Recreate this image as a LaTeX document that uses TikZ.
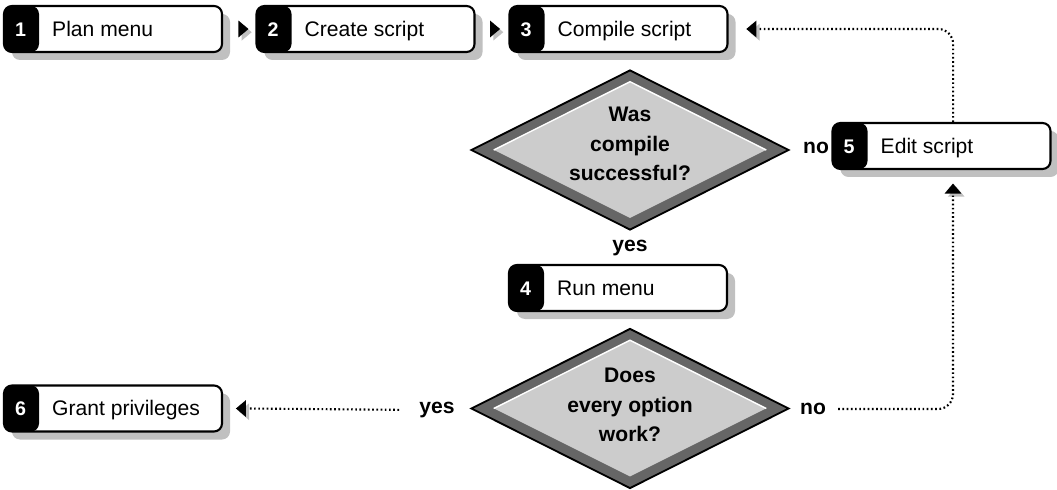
\documentclass[tikz,border=0pt]{standalone}
\usepackage{fontspec}
\setmainfont{Liberation Sans}
\usetikzlibrary{positioning,calc,shapes.geometric,shadows}
\definecolor{shade}{RGB}{192,192,192}
\definecolor{band}{RGB}{102,102,102}
\definecolor{face}{RGB}{204,204,204}
\tikzset{
  stepbox/.style={draw, line width=1.5pt, rounded corners=0.2cm, fill=white, minimum width=5.45cm, minimum height=1.15cm, inner sep=0pt,
    drop shadow={shadow xshift=0.2cm, shadow yshift=-0.2cm, fill=shade, opacity=1},
    path picture={\fill[black] (path picture bounding box.north west) rectangle ([xshift=0.875cm]path picture bounding box.south west);}},
  stepnum/.style={anchor=base, text=white, font=\fontsize{14}{16}\selectfont\bfseries, inner sep=0pt},
  steptxt/.style={anchor=base west, font=\fontsize{15}{18}\selectfont, inner sep=0pt},
  pointer/.style={isosceles triangle, isosceles triangle stretches, fill=black, minimum width=0.42cm, minimum height=0.25cm, inner sep=0pt, outer sep=0pt, shape border rotate=#1,
    drop shadow={shadow xshift=0.08cm, shadow yshift=-0.08cm, fill=shade, opacity=1}},
  dia/.style={diamond, draw, line width=1.3pt, fill=band, minimum width=7.95cm, minimum height=4cm, inner sep=0pt},
  diain/.style={diamond, fill=face, minimum width=6.8cm, minimum height=3.4cm, inner sep=0pt},
  diatxt/.style={align=center, font=\fontsize{15}{21}\selectfont\bfseries, inner sep=0pt},
  ans/.style={font=\fontsize{15}{18}\selectfont\bfseries, inner sep=0pt},
  retry/.style={line width=1.5pt, dash pattern=on 1.2pt off 1.8pt, rounded corners=0.375cm},
}
\begin{document}
\begin{tikzpicture}
  \useasboundingbox (0,0) rectangle (26.425,-12.25);
  \node[stepbox] (b1) at (2.825,-0.725) {};
  \node[stepnum] (n1) at ([xshift=0.44cm,yshift=-0.18cm]b1.west) {1};
  \node[steptxt] (t1) at ([xshift=1.225cm,yshift=-0.18cm]b1.west) {Plan menu};
  \node[stepbox] (b2) at (9.1375,-0.725) {};
  \node[stepnum] (n2) at ([xshift=0.44cm,yshift=-0.18cm]b2.west) {2};
  \node[steptxt] (t2) at ([xshift=1.225cm,yshift=-0.18cm]b2.west) {Create script};
  \node[stepbox] (b3) at (15.4625,-0.725) {};
  \node[stepnum] (n3) at ([xshift=0.44cm,yshift=-0.18cm]b3.west) {3};
  \node[steptxt] (t3) at ([xshift=1.225cm,yshift=-0.18cm]b3.west) {Compile script};
  \node[stepbox] (b4) at (15.45,-7.2) {};
  \node[stepnum] (n4) at ([xshift=0.44cm,yshift=-0.18cm]b4.west) {4};
  \node[steptxt] (t4) at ([xshift=1.225cm,yshift=-0.18cm]b4.west) {Run menu};
  \node[stepbox] (b5) at (23.5375,-3.65) {};
  \node[stepnum] (n5) at ([xshift=0.44cm,yshift=-0.18cm]b5.west) {5};
  \node[steptxt] (t5) at ([xshift=1.225cm,yshift=-0.18cm]b5.west) {Edit script};
  \node[stepbox] (b6) at (2.825,-10.2125) {};
  \node[stepnum] (n6) at ([xshift=0.44cm,yshift=-0.18cm]b6.west) {6};
  \node[steptxt] (t6) at ([xshift=1.225cm,yshift=-0.18cm]b6.west) {Grant privileges};

  \node[dia] (q1) at (15.75,-3.75) {};
  \node[diain] (q1in) at (q1) {};
  \draw[white, line width=1pt] (q1in.west) -- (q1in.north) -- (q1in.east);
  \node[diatxt] (q1txt) at ([yshift=0.15cm]q1) {Was\\compile\\successful?};
  \node[dia] (q2) at (15.75,-10.2125) {};
  \node[diain] (q2in) at (q2) {};
  \draw[white, line width=1pt] (q2in.west) -- (q2in.north) -- (q2in.east);
  \node[diatxt] (q2txt) at ([yshift=0.08cm]q2) {Does\\every option\\work?};

  \node[ans] (no1) at (20.4,-3.7) {no};
  \node[ans] (yes1) at (15.75,-6.2) {yes};
  \node[ans] (yes2) at (10.925,-10.25) {yes};
  \node[ans] (no2) at (20.325,-10.225) {no};

  \node[pointer=0] (p12) at (6.06,-0.725) {};
  \node[pointer=0] (p23) at (12.35,-0.725) {};
  \node[pointer=180] (p53) at (18.81,-0.725) {};
  \node[pointer=90] (p5) at (23.825,-4.74) {};
  \node[pointer=180] (p6) at (6.05,-10.2125) {};

  \draw[retry] ([xshift=0.29cm]b5.north) |- ([xshift=0.05cm]p53.east);
  \draw[retry, shorten <=0.3cm] (no2.east) -| ([yshift=-0.05cm]p5.south);
  \draw[retry, shorten <=0.5cm] (yes2.west) -- ([xshift=0.05cm]p6.east);
\end{tikzpicture}
\end{document}
